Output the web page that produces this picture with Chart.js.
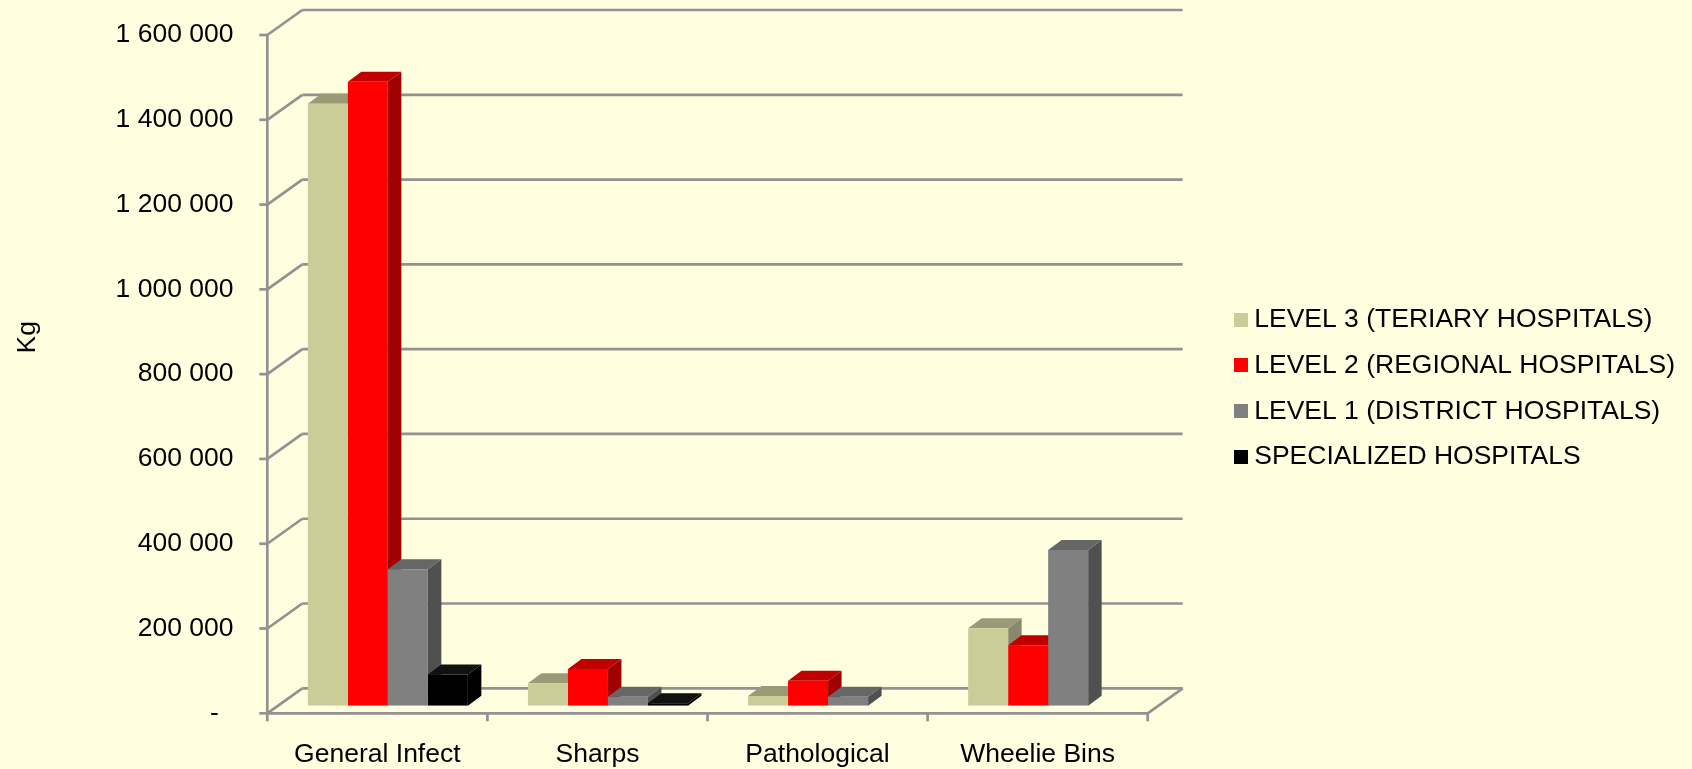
<!DOCTYPE html>
<html>
<head>
<meta charset="utf-8">
<script src="https://cdn.jsdelivr.net/npm/chart.js@4.4.1/dist/chart.umd.min.js"></script>
<style>
html, body { margin: 0; padding: 0; background: #FFFFE0; overflow: hidden; }
#wrap { width: 1692px; height: 769px; position: absolute; left: 0; top: 0; }
#c { display: block; }
</style>
</head>
<body>
<div id="wrap"><canvas id="c"></canvas></div>
<script>
// ---------- data ----------
const categories = ['General Infect', 'Sharps', 'Pathological', 'Wheelie Bins'];
const seriesNames = ['LEVEL 3 (TERIARY HOSPITALS)', 'LEVEL 2 (REGIONAL HOSPITALS)', 'LEVEL 1 (DISTRICT HOSPITALS)', 'SPECIALIZED HOSPITALS'];
const level3 = [1420000, 53000, 23000, 183000];
const level2 = [1472000, 87000, 59000, 143000];
const level1 = [322000, 21500, 21500, 367500];
const specialized = [74000, 6000, 0, 0];
const yTickValues = [0, 200000, 400000, 600000, 800000, 1000000, 1200000, 1400000, 1600000];
const yTickLabels = ['-  ', '200 000', '400 000', '600 000', '800 000', '1 000 000', '1 200 000', '1 400 000', '1 600 000'];
const yTitle = 'Kg';

// ---------- style ----------
const FONT_FAMILY = "'Liberation Sans', Arial, sans-serif";
const FONT_SIZE = 26.5;
const frontColors = ['#CCCC99', '#FF0000', '#808080', '#000000'];
const topColors = ['#9A9A76', '#C00000', '#666666', '#111111'];
const sideColors = ['#88886A', '#A00000', '#505050', '#000000'];
const GRID = '#929292';

// layout targets
const TARGET_LEFT = 277.8, TARGET_RIGHT = 1158.2, PAD_T = 7.6, TOP_GAP = 19.9, PAD_B = 0, TARGET_BOTTOM = 705.8;
const LEGEND_LEFT = 1221.7, LEG_PAD = 19.3, PSW = 0.01;
// depth geometry relative to bar front plane
const D = { fx: -10.5, fy: 7.5, bx: 24.5, by: -17.5, barDx: 13.5, barDy: -10, tick: 8 };

// measure legend text to place the legend
const mctx = document.createElement('canvas').getContext('2d');
mctx.font = FONT_SIZE + 'px ' + FONT_FAMILY;
const maxText = Math.max(...seriesNames.map(s => mctx.measureText(s).width));
const legendW = LEG_PAD + PSW + FONT_SIZE / 2 + maxText + 10;
const PAD_R = Math.max(0, 1692 - LEGEND_LEFT - legendW);

// legend swatches
const swatches = frontColors.map(c => {
  const cv = document.createElement('canvas');
  cv.width = 14; cv.height = 14;
  const g = cv.getContext('2d');
  g.fillStyle = c; g.fillRect(0, 0, 14, 14);
  return cv;
});

function line(ctx, x1, y1, x2, y2) {
  ctx.beginPath(); ctx.moveTo(x1, y1); ctx.lineTo(x2, y2); ctx.stroke();
}
function poly(ctx, pts, color) {
  ctx.beginPath();
  ctx.moveTo(pts[0][0], pts[0][1]);
  for (let i = 1; i < pts.length; i++) ctx.lineTo(pts[i][0], pts[i][1]);
  ctx.closePath();
  ctx.fillStyle = color; ctx.fill();
}

const threeD = {
  id: 'threeD',
  beforeDatasetsDraw(chart) {
    const ctx = chart.ctx, xs = chart.scales.x, ys = chart.scales.y;
    const L = xs.left, R = xs.right;
    ctx.save();
    ctx.strokeStyle = GRID;
    ctx.lineWidth = 2.7;
    ctx.lineCap = 'butt';
    yTickValues.forEach(v => {
      const y = ys.getPixelForValue(v);
      line(ctx, L + D.bx, y + D.by, R + D.bx, y + D.by);
      line(ctx, L + D.fx, y + D.fy, L + D.bx, y + D.by);
      line(ctx, L + D.fx - D.tick, y + D.fy, L + D.fx, y + D.fy);
    });
    const y0 = ys.getPixelForValue(0);
    const yT = ys.getPixelForValue(yTickValues[yTickValues.length - 1]);
    line(ctx, L + D.fx, yT + D.fy, L + D.fx, y0 + D.fy + D.tick);
    line(ctx, L + D.fx, y0 + D.fy, R + D.fx, y0 + D.fy);
    line(ctx, R + D.fx, y0 + D.fy, R + D.bx, y0 + D.by);
    const n = categories.length, cw = (R - L) / n;
    for (let k = 1; k <= n; k++) {
      const x = L + D.fx + k * cw;
      line(ctx, x, y0 + D.fy, x, y0 + D.fy + D.tick);
    }
    // 3D faces of the bars
    for (let i = 0; i < n; i++) {
      chart.data.datasets.forEach((ds, di) => {
        const meta = chart.getDatasetMeta(di);
        const el = meta.data[i];
        if (!el || !(ds.data[i] > 0)) return;
        const p = el.getProps(['x', 'y', 'base', 'width'], true);
        const l = p.x - p.width / 2, r = p.x + p.width / 2;
        poly(ctx, [[r, p.y], [r + D.barDx, p.y + D.barDy], [r + D.barDx, p.base + D.barDy], [r, p.base]], sideColors[di]);
        poly(ctx, [[l, p.y], [l + D.barDx, p.y + D.barDy], [r + D.barDx, p.y + D.barDy], [r, p.y]], topColors[di]);
      });
    }
    ctx.restore();
  }
};

const seriesValues = [level3, level2, level1, specialized];

new Chart(document.getElementById('c'), {
  type: 'bar',
  data: {
    labels: categories,
    datasets: seriesNames.map((name, i) => ({
      label: name,
      data: seriesValues[i],
      backgroundColor: frontColors[i],
      borderWidth: 0,
      categoryPercentage: 0.727,
      barPercentage: 1.0
    }))
  },
  options: {
    responsive: true,
    maintainAspectRatio: false,
    animation: false,
    devicePixelRatio: 1,
    layout: { padding: { left: 0, right: PAD_R, top: PAD_T, bottom: PAD_B } },
    font: { family: FONT_FAMILY, size: FONT_SIZE },
    scales: {
      x: {
        grid: { display: false, drawTicks: false },
        border: { display: false },
        ticks: { color: '#000', font: { family: FONT_FAMILY, size: FONT_SIZE }, padding: 33.4, labelOffset: D.fx, maxRotation: 0, autoSkip: false },
        afterFit(s) { s.height = 769 - PAD_B - TARGET_BOTTOM; s.paddingLeft = 0; s.paddingRight = 0; }
      },
      xT: {
        type: 'category',
        position: 'top',
        display: true,
        grid: { display: false, drawTicks: false },
        border: { display: false },
        ticks: { display: false },
        afterFit(s) { s.height = TOP_GAP; s.paddingLeft = 0; s.paddingRight = 0; }
      },
      y: {
        min: 0, max: 1600000,
        grid: { display: false, drawTicks: false },
        border: { display: false },
        ticks: {
          stepSize: 200000,
          color: '#000',
          font: { family: FONT_FAMILY, size: FONT_SIZE },
          padding: 44.3,
          labelOffset: D.fy,
          callback: (v) => { const k = yTickValues.indexOf(v); return k >= 0 ? yTickLabels[k] : ''; }
        },
        title: {
          display: true,
          text: '        ' + yTitle,
          color: '#000',
          font: { family: FONT_FAMILY, size: FONT_SIZE },
          padding: { top: 11.5, bottom: 0 }
        },
        afterFit(s) { s.width = TARGET_LEFT; s.paddingTop = 0; s.paddingBottom = 0; }
      },
      yR: {
        type: 'linear',
        position: 'right',
        display: true,
        grid: { display: false, drawTicks: false },
        border: { display: false },
        ticks: { display: false },
        afterFit(s) { s.width = Math.max(0, s.chart.width - PAD_R - s.chart.legend.width - TARGET_RIGHT); s.paddingTop = 0; s.paddingBottom = 0; }
      }
    },
    plugins: {
      tooltip: { enabled: false },
      legend: {
        position: 'right',
        align: 'center',
        maxWidth: 1000,
        labels: {
          color: '#000',
          font: { family: FONT_FAMILY, size: FONT_SIZE },
          padding: LEG_PAD,
          usePointStyle: true,
          pointStyleWidth: PSW,
          boxHeight: 14,
          generateLabels(chart) {
            const items = Chart.defaults.plugins.legend.labels.generateLabels(chart);
            items.forEach((it, i) => { it.pointStyle = swatches[i]; });
            return items;
          }
        }
      }
    }
  },
  plugins: [threeD]
});
</script>
</body>
</html>
